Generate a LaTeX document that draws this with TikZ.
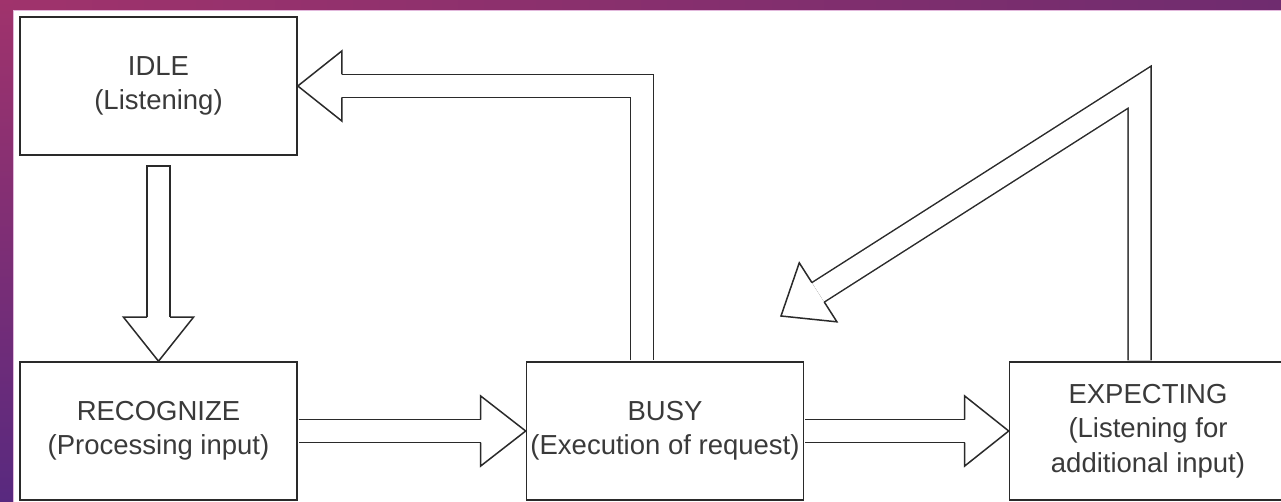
\documentclass[tikz,border=0pt]{standalone}
\usepackage{fontspec}
\setmainfont{Liberation Sans}
\usetikzlibrary{calc}
\definecolor{linec}{HTML}{2A2A2A}
\definecolor{textc}{HTML}{3A3A3A}
\definecolor{bandA}{HTML}{A0336C}
\definecolor{bandB}{HTML}{6F2C6F}
\definecolor{bandC}{HTML}{58297F}
\definecolor{bandedge}{HTML}{E2B8DC}
\newcommand{\bhead}[2]{%
  \draw[headline] ($(#1)!11.5pt!90:(#2)$) -- ($(#1)!35pt!90:(#2)$) -- (#2)
    -- ($(#1)!35pt!-90:(#2)$) -- ($(#1)!11.5pt!-90:(#2)$);}
\begin{document}
\begin{tikzpicture}[x=1pt,y=-1pt,
  state/.style={draw=linec, line width=1.6pt, minimum width=277pt, minimum height=138pt,
    inner sep=0pt, align=center, text=textc, font=\fontsize{27.5}{34.5}\selectfont},
  shaft/.style={draw=linec, line width=1.5pt, double=white, double distance=21.5pt, line join=miter},
  headline/.style={draw=linec, line width=1.5pt, line join=miter}]
\useasboundingbox (0,0) rectangle (1281,502);
\fill[white] (0,0) rectangle (1281,502);
\shade[left color=bandA, right color=bandB] (0,0) rectangle (1281,9.5);
\shade[top color=bandA, bottom color=bandC] (0,0) rectangle (13,502);
\draw[bandedge, line width=0.8pt] (13,10) -- (1281,10);
\draw[bandedge, line width=0.8pt] (13.4,10) -- (13.4,502);

\node[state] (idle) at (158.5,86) {IDLE\\(Listening)};
\node[state] (recog) at (158.5,431) {RECOGNIZE\\(Processing input)};
\node[state] (busy) at (665,431) {BUSY\\(Execution of request)};
\node[state] (expect) at (1148,431) {EXPECTING\\(Listening for\\additional input)};

% IDLE -> RECOGNIZE
\coordinate (d0) at ($(idle.south)+(0,10)$);
\coordinate (d1) at ($(recog.north)+(0,-44)$);
\draw[shaft] (d0) -- (d1);
\draw[headline] ($(d0)+(-12.25,0)$) -- ($(d0)+(12.25,0)$);
\bhead{d1}{recog.north}

% RECOGNIZE -> BUSY
\coordinate (h1) at ($(busy.west)+(-45,0)$);
\draw[shaft, shorten <=0.8pt] (recog.east) -- (h1);
\bhead{h1}{busy.west}

% BUSY -> EXPECTING
\coordinate (h2) at ($(expect.west)+(-44,0)$);
\draw[shaft, shorten <=0.8pt] (busy.east) -- (h2);
\bhead{h2}{expect.west}

% BUSY -> IDLE
\coordinate (b0) at ($(busy.north)+(-23,0)$);
\coordinate (b1) at (b0 |- idle.east);
\coordinate (b2) at ($(idle.east)+(44,0)$);
\draw[shaft, shorten <=0.8pt] (b0) -- (b1) -- (b2);
\bhead{b2}{idle.east}

% EXPECTING -> (back)
\coordinate (e0) at ($(expect.north)+(-8.5,0)$);
\coordinate (e1) at ($(e0)+(0,-274)$);
\coordinate (etip) at (781,316);
\coordinate (e2) at ($(etip)!44pt!(e1)$);
\draw[shaft, shorten <=0.8pt] (e0) -- (e1) -- (e2);
\bhead{e2}{etip}
\end{tikzpicture}
\end{document}
